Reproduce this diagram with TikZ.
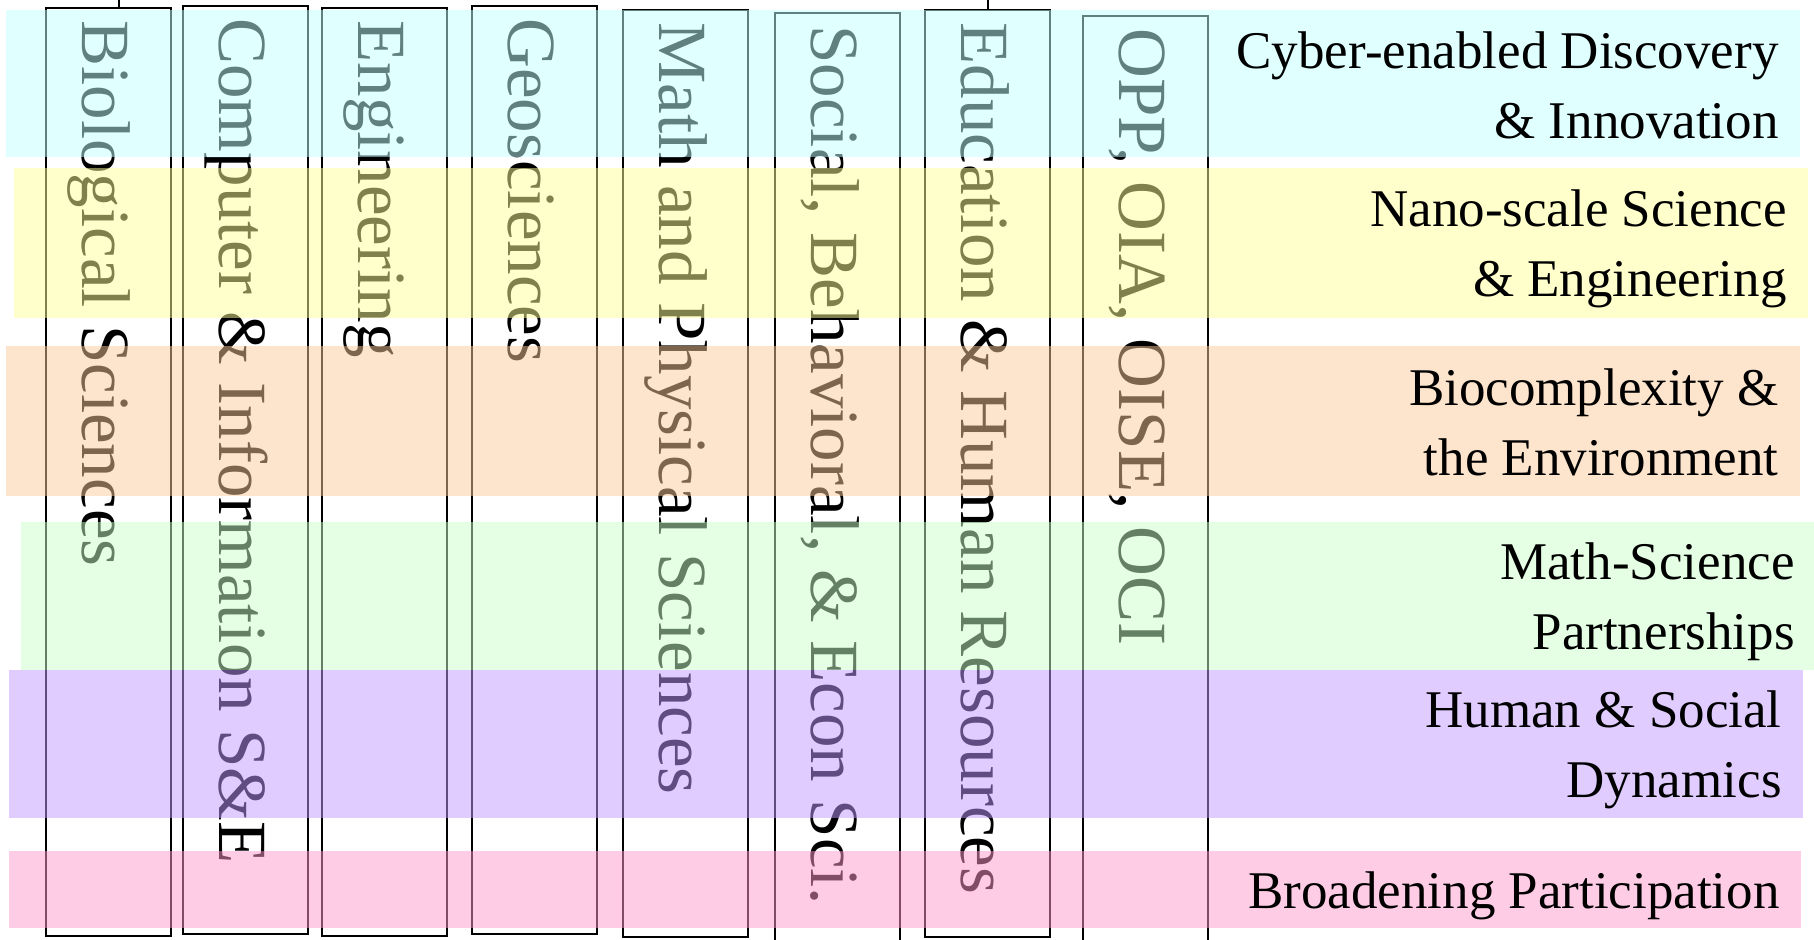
\documentclass[tikz,border=0pt]{standalone}
\usepackage{fontspec}
\setmainfont{Liberation Serif}
\usetikzlibrary{fit}
\definecolor{bcyan}{RGB}{193,255,255}
\definecolor{byellow}{RGB}{255,255,153}
\definecolor{borange}{RGB}{251,201,155}
\definecolor{bgreen}{RGB}{201,255,201}
\definecolor{bpurple}{RGB}{193,153,255}
\definecolor{bpink}{RGB}{255,153,205}
\begin{document}
\begin{tikzpicture}[x=0.5pt,y=-0.5pt,
  colbox/.style={draw=black,line width=1.2pt,inner sep=0pt},
  collabel/.style={rotate=-90,anchor=base west,inner sep=0pt,font=\fontsize{34.5}{40}\selectfont},
  band/.style={fill opacity=0.5,draw=none,inner sep=0pt},
  bandlabel/.style={anchor=east,align=right,inner sep=0pt,font=\fontsize{26.5}{35}\selectfont},
  tickline/.style={line width=1.2pt}]
\useasboundingbox (0,0) rectangle (1814,939);
% columns
\node[colbox,fit={(46,8) (171,936)}] (box1) {};
\node[colbox,fit={(183,6) (308,934)}] (box2) {};
\node[colbox,fit={(322,8) (447,936)}] (box3) {};
\node[colbox,fit={(472,6) (597,934)}] (box4) {};
\node[colbox,fit={(623,10) (748,937)}] (box5) {};
\node[colbox,fit={(775,13) (900,960)}] (box6) {};
\node[colbox,fit={(925,10) (1050,937)}] (box7) {};
\node[colbox,fit={(1083,16) (1208,960)}] (box8) {};
\node[collabel] (lab1) at (82,20) {Biological Sciences};
\node[collabel] (lab2) at (219,18) {Computer \& Information S\&E};
\node[collabel] (lab3) at (358,20) {Engineering};
\node[collabel] (lab4) at (508,18) {Geosciences};
\node[collabel] (lab5) at (659,22) {Math and Physical Sciences};
\node[collabel] (lab6) at (811,25) {Social, Behavioral, \& Econ Sci.};
\node[collabel] (lab7) at (961,22) {Education \& Human Resources};
\node[collabel] (lab8) at (1119,28) {OPP, OIA, OISE, OCI};
% ticks from above
\coordinate (t1) at (119,0);
\coordinate (t7) at (988,0);
\draw[tickline] (t1) -- (t1 |- box1.north);
\draw[tickline] (t7) -- (t7 |- box7.north);
% bands
\node[band,fill=bcyan,fit={(6,10) (1800,157)}] (band1) {};
\node[band,fill=byellow,fit={(14,168) (1808,318)}] (band2) {};
\node[band,fill=borange,fit={(6,346) (1800,496)}] (band3) {};
\node[band,fill=bgreen,fit={(21,522) (1816,670)}] (band4) {};
\node[band,fill=bpurple,fit={(9,670) (1803,818)}] (band5) {};
\node[band,fill=bpink,fit={(9,851) (1801,928)}] (band6) {};
% band labels
\node[bandlabel] (bl1) at (1779,85) {Cyber-enabled Discovery\\\& Innovation};
\node[bandlabel] (bl2) at (1787,249) {Nano-scale Science\\\& Engineering};
\node[bandlabel] (bl3) at (1779,422) {Biocomplexity \&\\the Environment};
\node[bandlabel] (bl4) at (1795,602) {Math-Science\\Partnerships};
\node[bandlabel] (bl5) at (1782,750) {Human \& Social\\Dynamics};
\node[bandlabel] (bl6) at (1780,896) {Broadening Participation};
\end{tikzpicture}
\end{document}
